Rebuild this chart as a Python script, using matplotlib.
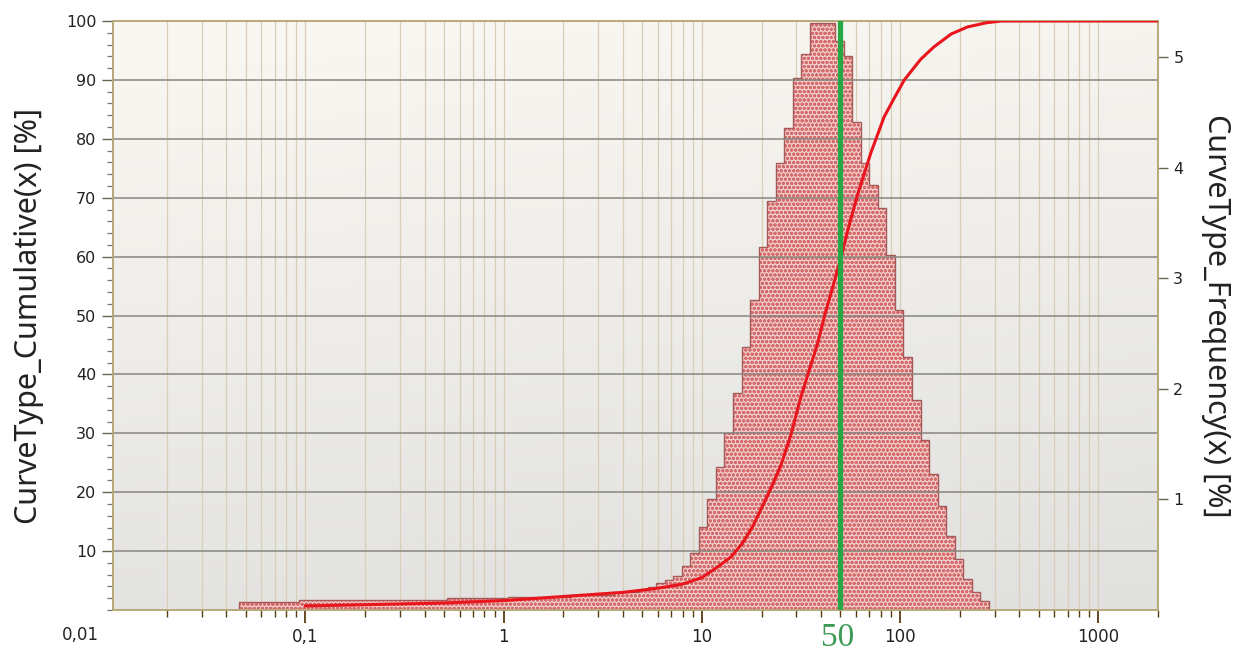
import matplotlib
matplotlib.use("Agg")
import matplotlib.pyplot as plt
import numpy as np
from matplotlib.ticker import FixedLocator, FixedFormatter, LogLocator, NullFormatter, MultipleLocator

# size classes [um] and the share of each class [%]
size_edges = [0.046, 0.093, 0.52, 1.05, 2.2, 3.6, 4.83, 5.33, 5.89, 6.50,
              7.18, 7.93, 8.75, 9.66, 10.67, 11.78, 13.0, 14.35, 15.85, 17.5,
              19.32, 21.33, 23.55, 26.0, 28.71, 31.7, 35.0, 38.64, 42.67, 47.11,
              52.01, 57.43, 63.41, 70.0, 77.29, 85.33, 94.21, 104.0, 114.9, 126.8,
              140.0, 154.6, 170.7, 188.4, 208.0, 229.7, 253.6, 280.0]
frequency = [0.07, 0.09, 0.11, 0.12, 0.14, 0.16, 0.18, 0.21, 0.24, 0.27,
             0.31, 0.40, 0.52, 0.75, 1.00, 1.29, 1.60, 1.96, 2.38, 2.80,
             3.28, 3.70, 4.04, 4.36, 4.81, 5.03, 5.31, 5.31, 5.31, 5.14,
             5.01, 4.41, 4.04, 3.84, 3.63, 3.21, 2.71, 2.29, 1.90, 1.54,
             1.23, 0.94, 0.67, 0.46, 0.28, 0.16, 0.08]

# cumulative curve, undersize [%]
cum_size = [0.1, 0.2, 0.5, 1.0, 2.0, 4.0, 6.0, 8.0, 10.0, 12.0, 14.0, 16.0,
            18.0, 20.0, 22.4, 25.0, 28.0, 31.6, 35.0, 38.4, 42.0, 45.0, 50.0,
            55.0, 61.0, 71.0, 83.0, 93.0, 105.0, 127.0, 148.0, 181.0, 219.0,
            272.0, 324.0, 2000.0]
cum_value = [0.7, 0.9, 1.2, 1.6, 2.3, 3.0, 3.7, 4.4, 5.5, 7.3, 9.0, 11.3,
             14.1, 17.3, 20.8, 24.5, 29.5, 36.2, 41.0, 45.3, 50.5, 54.0, 59.5,
             65.0, 70.5, 77.5, 83.7, 86.8, 90.0, 93.5, 95.6, 97.8, 99.0,
             99.7, 100.0, 100.0]

x50 = 50
x_ticks = [0.1, 1, 10, 100, 1000]
x_labels = ["0,1", "1", "10", "100", "1000"]
cum_ticks = [10, 20, 30, 40, 50, 60, 70, 80, 90, 100]
freq_ticks = [1, 2, 3, 4, 5]

plt.rcParams["hatch.color"] = "#d46c6c"
plt.rcParams["hatch.linewidth"] = 1.0

SPINE = "#b9aa7c"
TICKC = "#5a3c12"
TXT = "#222222"

fig = plt.figure(figsize=(12.48, 6.53), dpi=100)
ax_f = fig.add_axes([0.0905, 0.0658, 0.8374, 0.9020])
ax_f.set_facecolor("none")

# soft gradient behind the plot
g = np.linspace(0, 1, 256)
gy, gx = np.meshgrid(g, g, indexing="ij")
t = 0.85 * gy + 0.15 * gx
top = np.array([250, 248, 242]) / 255
bot = np.array([224, 224, 223]) / 255
bg = top + (bot - top) * t[..., None]
ax_f.imshow(bg, extent=[0, 1, 0, 1], transform=ax_f.transAxes, aspect="auto",
            zorder=0, interpolation="bilinear")

ax_f.stairs(frequency, size_edges, fill=True, facecolor="#f1cccb", hatch="oooo", zorder=2)
ax_f.stairs(frequency, size_edges, color="#a65a58", lw=1.0, zorder=3)

ax_f.set_xscale("log")
ax_f.set_xlim(0.0107, 2000)
ax_f.set_ylim(0, 5.324)
ax_f.xaxis.set_major_locator(FixedLocator(x_ticks))
ax_f.xaxis.set_major_formatter(FixedFormatter(x_labels))
ax_f.xaxis.set_minor_locator(LogLocator(base=10, subs=np.arange(2, 10), numticks=20))
ax_f.xaxis.set_minor_formatter(NullFormatter())
ax_f.xaxis.grid(True, which="both", color="#d9cfb7", lw=0.9, zorder=1)
ax_f.set_axisbelow(True)

ax_c = ax_f.twinx()
ax_c.plot(cum_size, cum_value, color="#e8151c", lw=2.2, zorder=4)
ax_c.axvline(x50, color="#27a844", lw=3.8, zorder=6)
ax_c.set_ylim(0, 100)
ax_c.yaxis.set_major_locator(FixedLocator(cum_ticks))
ax_c.yaxis.set_minor_locator(MultipleLocator(2))
ax_c.yaxis.grid(True, color="#878680", lw=1.1)
ax_c.yaxis.get_major_ticks()[-1].gridline.set_visible(False)

ax_f.yaxis.tick_right()
ax_f.yaxis.set_label_position("right")
ax_c.yaxis.tick_left()
ax_c.yaxis.set_label_position("left")
ax_f.yaxis.set_major_locator(FixedLocator(freq_ticks))

for a in (ax_f, ax_c):
    for s in a.spines.values():
        s.set_color(SPINE)
        s.set_linewidth(1.3)

ax_f.tick_params(axis="x", which="major", direction="out", length=9, width=1.3,
                 color=TICKC, labelsize=12, pad=4, labelcolor=TXT)
ax_f.tick_params(axis="x", which="minor", direction="out", length=5, width=1.0,
                 color=TICKC)
ax_f.tick_params(axis="y", which="major", direction="out", length=7, width=1.0,
                 color="#666655", labelsize=11.5, pad=4, labelcolor=TXT)
ax_c.tick_params(axis="y", which="major", direction="out", length=8, width=1.0,
                 color="#666655", labelsize=11.5, pad=4, labelcolor=TXT)
ax_c.tick_params(axis="y", which="minor", direction="out", length=4, width=0.9,
                 color="#777766")

ax_f.annotate("0,01", xy=(0, 0), xycoords="axes fraction", xytext=(-10, -18),
              textcoords="offset points", ha="right", va="center", fontsize=12,
              color=TXT)
ax_c.annotate("50", xy=(x50, 0), xycoords=("data", "axes fraction"),
              xytext=(-2, -31), textcoords="offset points", ha="center", va="bottom",
              fontsize=24, family="Liberation Serif", color="#3c9a56")

ax_c.set_ylabel("CurveType_Cumulative(x) [%]", fontsize=22, family="Noto Sans",
                color=TXT)
ax_f.set_ylabel("CurveType_Frequency(x) [%]", fontsize=22, family="Noto Sans",
                color=TXT, rotation=270)
ax_c.yaxis.label.set_va("center")
ax_f.yaxis.label.set_va("center")
ax_c.yaxis.set_label_coords((29 - 113) / 1045, 0.5)
ax_f.yaxis.set_label_coords((1216 - 113) / 1045, 0.5)

fig.savefig("out.png", dpi=100)
